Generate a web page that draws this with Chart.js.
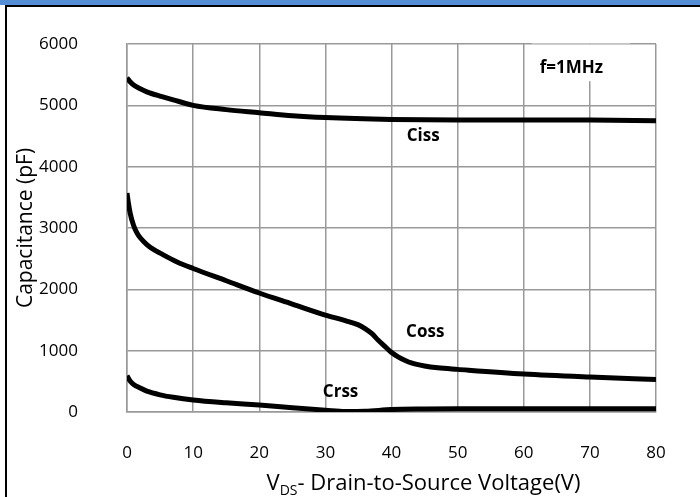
<!DOCTYPE html>
<html>
<head>
<meta charset="utf-8">
<script src="https://cdn.jsdelivr.net/npm/chart.js@4/dist/chart.umd.min.js"></script>
<style>
  body { margin: 0; background: #fff; }
  #wrap { position: relative; width: 700px; height: 497px; overflow: hidden; }
  #myChart { position: absolute; left: 0; top: 0; }
  .bar { position: absolute; left: 0; top: 0; width: 700px; height: 5px; background: #558ed5; }
  .hline { position: absolute; left: 5px; top: 5px; width: 695px; height: 2px; background: #000; }
  .vline { position: absolute; left: 5px; top: 5px; width: 2px; height: 492px; background: #000; }
</style>
</head>
<body>
<div id="wrap">
  <canvas id="myChart" width="700" height="497"></canvas>
  <div class="bar"></div>
  <div class="hline"></div>
  <div class="vline"></div>
</div>
<script>
// drain-source voltage (V) and capacitances (pF)
const vCiss = [0, 0.5, 1, 2, 3, 5, 7, 10, 15, 20, 25, 30, 40, 50, 60, 70, 80];
const ciss = [5450, 5380, 5330, 5270, 5220, 5150, 5090, 5000, 4930, 4880, 4830, 4800, 4770, 4760, 4760, 4760, 4750];

const vCoss = [0, 0.25, 0.5, 1, 1.5, 2, 3, 4, 5, 7.5, 10, 15, 20, 25, 30, 33, 35, 36, 37, 38, 39, 40, 41, 42, 43, 45, 47, 50, 60, 70, 80];
const coss = [3570, 3380, 3230, 3040, 2920, 2840, 2730, 2650, 2590, 2450, 2340, 2140, 1940, 1760, 1580, 1490, 1420, 1360, 1280, 1170, 1070, 970, 900, 845, 800, 750, 720, 695, 620, 570, 530];

const vCrss = [0, 0.5, 1, 2, 3, 5, 7, 10, 15, 20, 25, 30, 33, 36, 40, 45, 50, 60, 70, 80];
const crss = [590, 500, 450, 390, 340, 280, 240, 196, 150, 114, 70, 30, 8, 12, 40, 50, 55, 55, 55, 55];

const xTicks = [0, 10, 20, 30, 40, 50, 60, 70, 80];
const yTicks = [0, 1000, 2000, 3000, 4000, 5000, 6000];

// curve labels: [text, V, pF]
const notes = [['Ciss', 44.8, 4500], ['Coss', 45.1, 1300], ['Crss', 32.3, 330], ['f=1MHz', 67.2, 5600]];

const pts = (xs, ys) => xs.map((x, i) => ({x: x, y: ys[i]}));

const fontFam = "'Open Sans', sans-serif";

const labelsPlugin = {
  id: 'labels',
  beforeDatasetsDraw(chart) {
    const {ctx, scales: {x, y}} = chart;
    // white box behind f=1MHz
    const x0 = x.getPixelForValue(61.2), x1 = x.getPixelForValue(76.1);
    const y0 = y.getPixelForValue(6000), y1 = y.getPixelForValue(5410);
    ctx.save();
    ctx.fillStyle = '#fff';
    ctx.fillRect(x0, y0 + 1, x1 - x0, y1 - y0);
    ctx.strokeStyle = '#d0d0d0';
    ctx.lineWidth = 1.5;
    ctx.beginPath(); ctx.moveTo(x0, y0); ctx.lineTo(x1, y0); ctx.stroke();
    ctx.restore();
  },
  afterDraw(chart) {
    const {ctx, scales: {x, y}, chartArea} = chart;
    ctx.save();
    ctx.fillStyle = '#000';
    ctx.textAlign = 'center';
    ctx.textBaseline = 'middle';
    ctx.font = 'bold 17px ' + fontFam;
    notes.forEach(n => ctx.fillText(n[0], x.getPixelForValue(n[1]), y.getPixelForValue(n[2])));

    // x axis title with subscript
    const main = 'V', sub = 'DS', rest = '- Drain-to-Source Voltage(V)';
    const big = '22px ' + fontFam, small = '14px ' + fontFam;
    ctx.textAlign = 'left';
    ctx.textBaseline = 'alphabetic';
    ctx.font = big;
    const wMain = ctx.measureText(main).width, wRest = ctx.measureText(rest).width;
    ctx.font = small;
    const wSub = ctx.measureText(sub).width;
    const cx = (chartArea.left + chartArea.right) / 2 + 32;
    let tx = cx - (wMain + wSub + wRest) / 2;
    const ty = chartArea.bottom + 78;
    ctx.font = big;
    ctx.fillText(main, tx, ty);
    tx += wMain;
    ctx.font = small;
    ctx.fillText(sub, tx, ty + 5);
    tx += wSub;
    ctx.font = big;
    ctx.fillText(rest, tx, ty);
    ctx.restore();
  }
};

const line = (data) => ({
  data: data,
  borderColor: '#000',
  borderWidth: 5,
  pointRadius: 0,
  fill: false,
  cubicInterpolationMode: 'monotone'
});

new Chart(document.getElementById('myChart').getContext('2d'), {
  type: 'line',
  data: {
    datasets: [line(pts(vCiss, ciss)), line(pts(vCoss, coss)), line(pts(vCrss, crss))]
  },
  options: {
    responsive: false,
    animation: false,
    layout: { padding: { top: 44, right: 44, left: 0, bottom: 0 } },
    plugins: { legend: { display: false }, tooltip: { enabled: false } },
    scales: {
      x: {
        type: 'linear',
        min: 0, max: 80,
        afterBuildTicks: s => { s.ticks = xTicks.map(v => ({value: v})); },
        afterFit: s => { s.height = 85; s.paddingLeft = 10; s.paddingRight = 10; },
        grid: { color: '#999', lineWidth: 1.5, drawTicks: false },
        border: { color: '#999', width: 1.5 },
        ticks: { color: '#000', padding: 31, font: { family: fontFam, size: 17 }, callback: v => String(v) }
      },
      y: {
        min: 0, max: 6000,
        afterBuildTicks: s => { s.ticks = yTicks.map(v => ({value: v})); },
        afterFit: s => { s.width = 127; s.paddingTop = 12; s.paddingBottom = 12; },
        grid: { color: '#999', lineWidth: 1.5, drawTicks: false },
        border: { color: '#999', width: 1.5 },
        ticks: { color: '#000', padding: 49, font: { family: fontFam, size: 17 }, callback: v => String(v) },
        title: {
          display: true,
          text: 'Capacitance (pF)',
          color: '#000',
          padding: { top: 13 },
          font: { family: fontFam, size: 21 }
        }
      }
    }
  },
  plugins: [labelsPlugin]
});
</script>
</body>
</html>
